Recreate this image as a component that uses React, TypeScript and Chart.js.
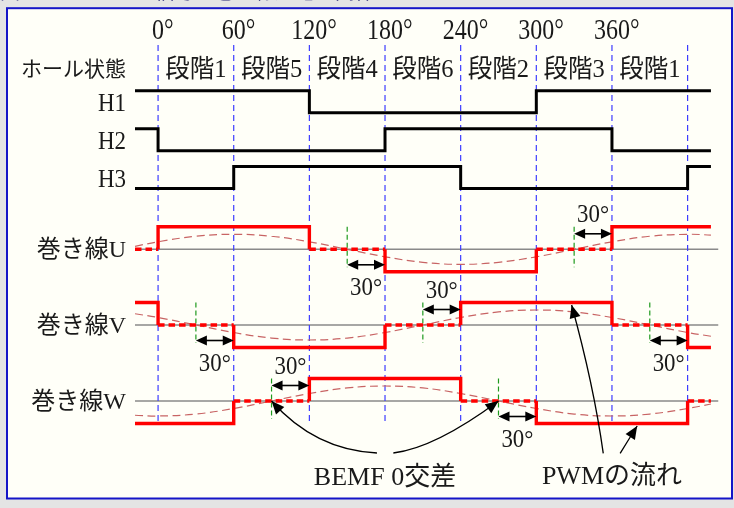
import React, { useEffect, useRef } from "react";
import { Chart, registerables } from "chart.js";
Chart.register(...registerables);

// ---- data ----
const X_MIN = -18.3;
const X_MAX = 444.5;
const WAVE_END = 438.5;
const commutationAngles = [0, 60, 120, 180, 240, 300, 360, 420];
const degreeLabelAngles = [0, 60, 120, 180, 240, 300, 360];
const degreeLabels = ["0", "60", "120", "180", "240", "300", "360"];
const stageAngles = [30, 90, 150, 210, 270, 330, 390];
const stageLabels = ["段階1", "段階5", "段階4", "段階6", "段階2", "段階3", "段階1"];
const hallNames = ["H1", "H2", "H3"];
const hall1 = [1, 1, 1, 0, 0, 0, 1, 1, 1];
const hall2 = [1, 0, 0, 0, 1, 1, 1, 0, 0];
const hall3 = [0, 0, 1, 1, 1, 0, 0, 0, 1];
const windingNames = ["巻き線U", "巻き線V", "巻き線W"];
const windingU = [0, 1, 1, 0, -1, -1, 0, 1, 1];
const windingV = [1, 0, -1, -1, 0, 1, 1, 0, -1];
const windingW = [-1, -1, 0, 1, 1, 0, -1, -1, 0];
const bemfAngles = [-18.3, 0, 30, 60, 90, 120, 150, 180, 210, 240, 270, 300, 330, 360, 390, 420, 438.5];
const bemfU = [0.2, 0.5, 0.87, 1, 0.87, 0.5, 0, -0.5, -0.87, -1, -0.87, -0.5, 0, 0.5, 0.87, 1, 0.95];
const bemfV = [0.75, 0.5, 0, -0.5, -0.87, -1, -0.87, -0.5, 0, 0.5, 0.87, 1, 0.87, 0.5, 0, -0.5, -0.75];
const bemfW = [-0.95, -1, -0.87, -0.5, 0, 0.5, 0.87, 1, 0.87, 0.5, 0, -0.5, -0.87, -1, -0.87, -0.5, -0.2];
const zeroCross = [[150, 330], [30, 210, 390], [90, 270]];
const arrowFrom = [150, 330, 30, 210, 390, 90, 270];
const arrowTo = [180, 360, 60, 240, 420, 120, 300];
const arrowRow = [0, 0, 1, 1, 1, 2, 2];
const arrowSide = [1, -1, 1, -1, 1, -1, 1];
const arrowText = "30°";
const titleText = "図1 ホールセンサ信号と巻き線通電の関係";

// ---- layout (pixel-like vertical units) ----
const HALL_LOW = [112.7, 150.7, 188.5];
const HALL_AMP = 22;
const WIND_BASE = [249.3, 325, 401];
const WIND_AMP = 22.5;
const BEMF_AMP = 15;
const VLINE_TOP = 45;
const VLINE_BOTTOM = 422;
const FONT = "'Liberation Serif', 'Noto Sans CJK JP', serif";
const TEXT = "#1a1a1a";

const edges = [X_MIN, ...commutationAngles, WAVE_END];

function stepPoints(states: number[], base: number, amp: number) {
  const pts: { x: number; y: number }[] = [];
  for (let i = 0; i < states.length; i++) {
    const y = base - states[i] * amp;
    pts.push({ x: edges[i], y });
    pts.push({ x: edges[i + 1], y });
  }
  return pts;
}

function txt(ctx: CanvasRenderingContext2D, s: string, x: number, y: number, size: number, align: CanvasTextAlign, baseline: CanvasTextBaseline, sx = 1, color = TEXT) {
  ctx.save();
  ctx.font = `${size}px ${FONT}`;
  ctx.fillStyle = color;
  ctx.textAlign = align;
  ctx.textBaseline = baseline;
  ctx.translate(x, y);
  ctx.scale(sx, 1);
  ctx.fillText(s, 0, 0);
  ctx.restore();
}

function arrowHead(ctx: CanvasRenderingContext2D, tx: number, ty: number, dx: number, dy: number, len = 11, hw = 5) {
  const l = Math.hypot(dx, dy) || 1;
  const ux = dx / l, uy = dy / l;
  const bx = tx - ux * len, by = ty - uy * len;
  ctx.beginPath();
  ctx.moveTo(tx, ty);
  ctx.lineTo(bx - uy * hw, by + ux * hw);
  ctx.lineTo(bx + uy * hw, by - ux * hw);
  ctx.closePath();
  ctx.fill();
}

const curves = [
  { tail: [173.6, 453], ctrl: [124.4, 450], tip: [90, WIND_BASE[2]] },
  { tail: [186.6, 453], ctrl: [219.6, 448], tip: [270, WIND_BASE[2]] },
  { tail: [353.1, 453.3], ctrl: [345.5, 385], tip: [328, WIND_BASE[1] - WIND_AMP + 2.5] },
  { tail: [366.5, 453.3], ctrl: [372.5, 441], tip: [380, WIND_BASE[2] + WIND_AMP + 2.5] },
];
const notes = [
  { text: "BEMF 0交差", angle: 180, y: 485 },
  { text: "PWMの流れ", angle: 360, y: 483.5 },
];

const decorPlugin = {
  id: "decor",
  beforeDraw(chart: any) {
    const ctx: CanvasRenderingContext2D = chart.ctx;
    ctx.save();
    ctx.fillStyle = "#e4e4e4";
    ctx.fillRect(0, 0, chart.width, chart.height);
    txt(ctx, titleText, 0, -1.5, 20, "left", "alphabetic", 1, "#1c1c70");
    ctx.fillStyle = "#fffff8";
    ctx.fillRect(7, 8, 725, 491);
    ctx.strokeStyle = "#1515c8";
    ctx.lineWidth = 2;
    ctx.strokeRect(7, 8.2, 725, 490.3);
    ctx.restore();
  },
  afterDatasetsDraw(chart: any) {
    const ctx: CanvasRenderingContext2D = chart.ctx;
    const xs = chart.scales.x;
    const ys = chart.scales.y;
    const px = (a: number) => xs.getPixelForValue(a);
    const py = (v: number) => ys.getPixelForValue(v);
    ctx.save();
    // degree labels (digits centred on the line)
    degreeLabels.forEach((d, i) => {
      ctx.font = `30px ${FONT}`;
      const w = ctx.measureText(d).width * 0.8;
      txt(ctx, d + "°", px(degreeLabelAngles[i]) - w / 2, 38.5, 30, "left", "alphabetic", 0.8);
    });
    // stage labels
    stageLabels.forEach((s, i) => txt(ctx, s, px(stageAngles[i]), 70, 25, "center", "middle", 0.98));
    txt(ctx, "ホール状態", 126, 70, 21, "right", "middle");
    hallNames.forEach((h, i) => txt(ctx, h, 126, HALL_LOW[i] - 8, 25, "right", "middle", 0.92));
    windingNames.forEach((w, i) => txt(ctx, w, 126, WIND_BASE[i] + 1.5, 24, "right", "middle"));
    // 30° double arrows
    ctx.strokeStyle = "#000";
    ctx.fillStyle = "#000";
    ctx.lineWidth = 1.6;
    arrowFrom.forEach((a, i) => {
      const base = WIND_BASE[arrowRow[i]];
      const y = py(base + arrowSide[i] * 15.5);
      const x0 = px(a), x1 = px(arrowTo[i]);
      ctx.beginPath();
      ctx.moveTo(x0 + 6, y);
      ctx.lineTo(x1 - 6, y);
      ctx.stroke();
      arrowHead(ctx, x0, y, -1, 0, 11, 5);
      arrowHead(ctx, x1, y, 1, 0, 11, 5);
      const ly = arrowSide[i] > 0 ? base + 45.5 : base - 27;
      txt(ctx, arrowText, (x0 + x1) / 2, py(ly), 26, "center", "alphabetic", 0.88);
    });
    // curved annotation arrows
    ctx.lineWidth = 1.3;
    curves.forEach((c) => {
      const t = [px(c.tail[0]), py(c.tail[1])];
      const k = [px(c.ctrl[0]), py(c.ctrl[1])];
      const p = [px(c.tip[0]), py(c.tip[1])];
      ctx.beginPath();
      ctx.moveTo(t[0], t[1]);
      ctx.quadraticCurveTo(k[0], k[1], p[0], p[1]);
      ctx.stroke();
      arrowHead(ctx, p[0], p[1], p[0] - k[0], p[1] - k[1], 13, 5.5);
    });
    notes.forEach((n) => txt(ctx, n.text, px(n.angle), n.y, 26, "center", "alphabetic"));
    ctx.restore();
  },
};

export default function App() {
  const ref = useRef<HTMLCanvasElement>(null);
  useEffect(() => {
    if (!ref.current) return;
    const datasets: any[] = [];
    const halls = [hall1, hall2, hall3];
    halls.forEach((h, i) =>
      datasets.push({ data: stepPoints(h, HALL_LOW[i], HALL_AMP), borderColor: "#000", borderWidth: 3, order: 0, borderJoinStyle: "miter" })
    );
    const winds = [windingU, windingV, windingW];
    winds.forEach((w, i) =>
      datasets.push({
        data: stepPoints(w, WIND_BASE[i], WIND_AMP),
        borderColor: "#ff0000",
        borderWidth: 3.4,
        order: 0,
        borderJoinStyle: "miter",
        segment: {
          borderDash: (c: any) => (c.p0.parsed.y === WIND_BASE[i] && c.p1.parsed.y === WIND_BASE[i] ? [6.5, 4] : []),
        },
      })
    );
    const bemfs = [bemfU, bemfV, bemfW];
    bemfs.forEach((b, i) =>
      datasets.push({
        data: bemfAngles.map((a, j) => ({ x: a, y: WIND_BASE[i] - b[j] * BEMF_AMP })),
        borderColor: "#c86464",
        borderWidth: 1.2,
        borderDash: [8, 4.5],
        tension: 0.4,
        order: 2,
      })
    );
    zeroCross.forEach((zs, i) =>
      zs.forEach((z) =>
        datasets.push({
          data: [{ x: z, y: WIND_BASE[i] - WIND_AMP }, { x: z, y: WIND_BASE[i] + 18 }],
          borderColor: "#1e9a1e",
          borderWidth: 1.2,
          borderDash: [5, 3],
          order: 1,
        })
      )
    );
    commutationAngles.forEach((a) =>
      datasets.push({
        data: [{ x: a, y: VLINE_TOP }, { x: a, y: VLINE_BOTTOM }],
        borderColor: "#3c3cff",
        borderWidth: 1.2,
        borderDash: [6, 4],
        order: 3,
      })
    );
    WIND_BASE.forEach((b) =>
      datasets.push({
        data: [{ x: X_MIN, y: b }, { x: X_MAX, y: b }],
        borderColor: "#8a8a8a",
        borderWidth: 1.5,
        order: 4,
      })
    );
    const chart = new Chart(ref.current, {
      type: "line",
      data: { datasets },
      options: {
        animation: false,
        responsive: false,
        events: [],
        layout: { padding: { left: 135, right: 15.5, top: 0, bottom: 0 } },
        elements: { point: { radius: 0 }, line: { fill: false } },
        plugins: { legend: { display: false }, tooltip: { enabled: false } },
        scales: {
          x: { type: "linear", min: X_MIN, max: X_MAX, display: false },
          y: { type: "linear", min: 0, max: 508, reverse: true, display: false },
        },
      } as any,
      plugins: [decorPlugin],
    });
    return () => chart.destroy();
  }, []);
  return (
    <div style={{ position: "fixed", left: 0, top: 0, width: 734, height: 508 }}>
      <canvas ref={ref} width={734} height={508} style={{ display: "block" }} />
    </div>
  );
}
